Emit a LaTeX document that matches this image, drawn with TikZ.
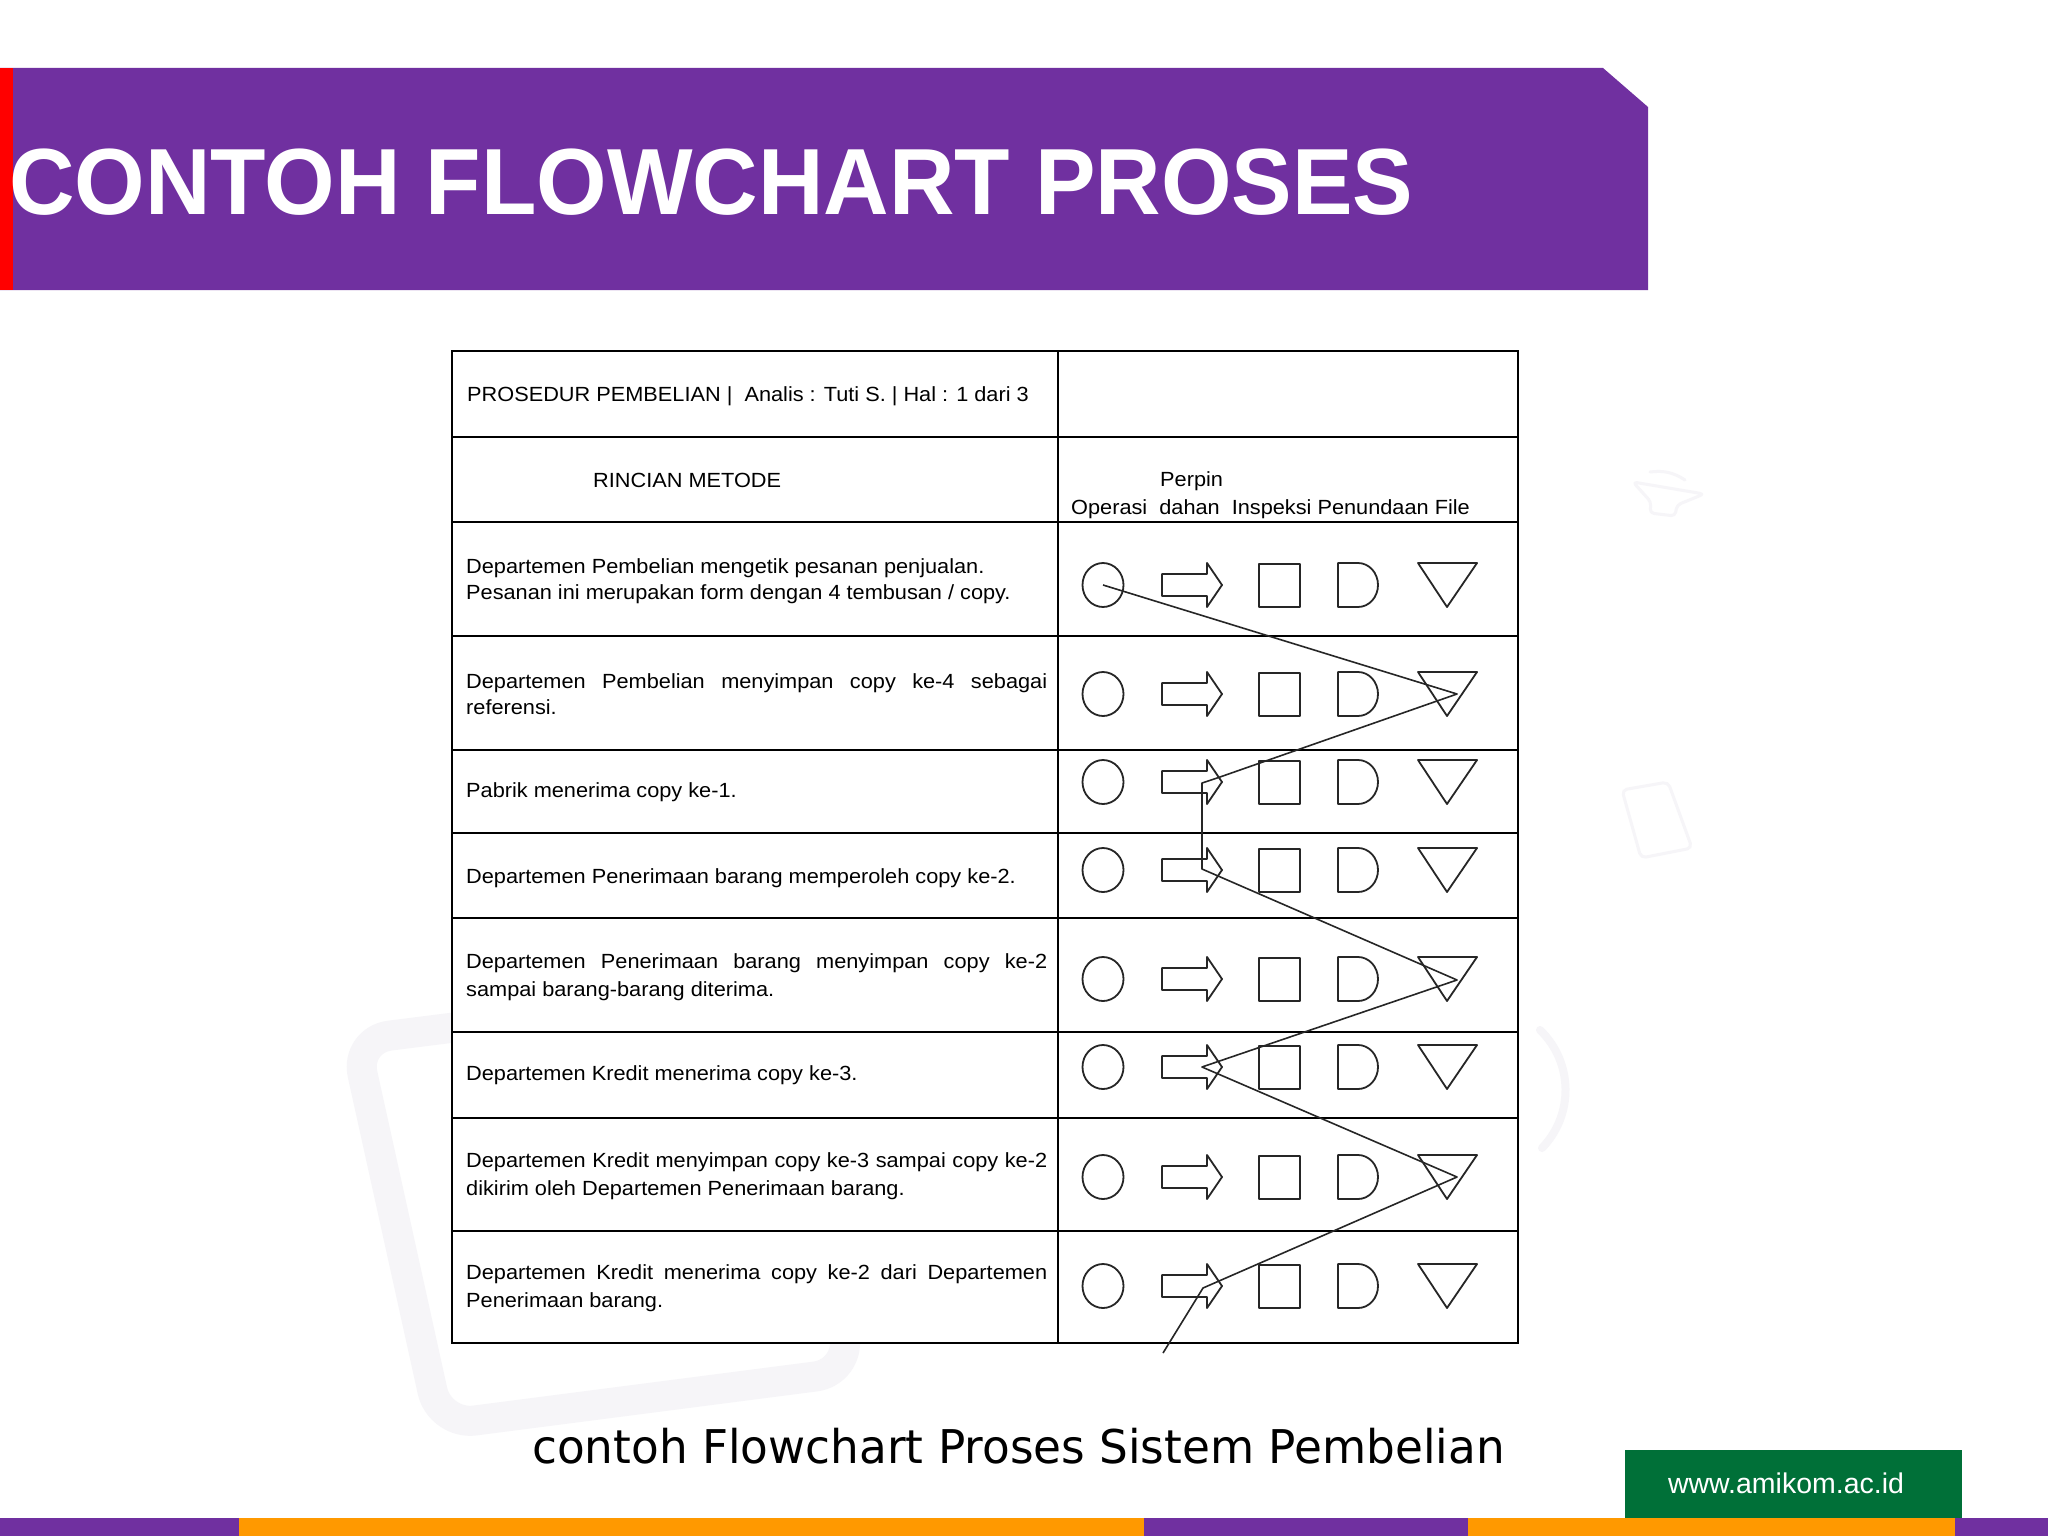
\documentclass[tikz,border=0pt]{standalone}
\usepackage{fontspec}
\setmainfont{Liberation Sans}
\newfontfamily\titlefont[FakeStretch=0.965]{Liberation Sans}
\newfontfamily\tabfont[FakeStretch=1.06]{Liberation Sans}
\newfontfamily\capfont[FakeStretch=0.975]{DejaVu Sans}
\definecolor{hdrpurple}{RGB}{112,48,160}
\definecolor{hdrred}{RGB}{255,0,0}
\definecolor{barorange}{RGB}{255,153,0}
\definecolor{webgreen}{RGB}{0,112,56}
\definecolor{wmgray}{RGB}{246,245,248}
\tikzset{
  tabline/.style={line width=2.5pt, black},
  sym/.style={line width=1.8pt, black!85, line join=round},
  flow/.style={line width=1.6pt, black!85, line join=round},
  ttext/.style={anchor=base west, inner sep=0pt, font=\tabfont\fontsize{20.5}{25}\selectfont},
  wm/.style={draw=wmgray, line cap=round, line join=round},
}
\begin{document}
\begin{tikzpicture}[x=1pt,y=-1pt]
\useasboundingbox (0,0) rectangle (2048,1536);
\fill[white] (0,0) rectangle (2048,1536);

% faint watermark shapes
\draw[wm, line width=30pt, rounded corners=35pt] (355,1040) -- (790,985) -- (850,1372) -- (440,1425) -- cycle;
\draw[wm, line width=8pt] (1540,1030) to[bend left=45] (1542,1148);
\draw[wm, line width=3pt, rounded corners=4pt] (1633,482) -- (1704,494) -- (1677,505) -- (1675,516) -- (1650,513) -- (1651,502) -- cycle;
\draw[wm, line width=3pt] (1650,472) to[bend left=20] (1685,480);
\draw[wm, line width=3pt, rounded corners=5pt] (1622,790) -- (1668,782) -- (1692,848) -- (1641,858) -- cycle;

% header band
\fill[hdrpurple] (0,68) -- (1603,68) -- (1648,107) -- (1648,290) -- (0,290) -- cycle;
\fill[hdrred] (0,68) rectangle (13,290);
\node[anchor=base west, inner sep=0pt, text=white, font=\titlefont\bfseries\fontsize{94}{100}\selectfont] (title) at (9,214) {CONTOH FLOWCHART PROSES};

% table
\fill[white] (452,351) rectangle (1518,1343);
\draw[tabline] (452,351) rectangle (1518,1343);
\draw[tabline] (1058,351) -- (1058,1343);
\foreach \yy in {437,522,636,750,833,918,1032,1118,1231} {
  \draw[tabline] (452,\yy) -- (1518,\yy);
}

% header texts
\node[ttext] (hdr) at (467,401) {PROSEDUR PEMBELIAN~|~~Analis : Tuti S. | Hal : 1 dari 3};
\node[ttext] (rincian) at (593,487) {RINCIAN METODE};
\node[ttext] (perpin) at (1160,486) {Perpin};
\node[ttext] (cols) at (1071,514) {Operasi~~dahan~~Inspeksi Penundaan File};

% row texts
\node[ttext] (r1a) at (466,573) {Departemen Pembelian mengetik pesanan penjualan.};
\node[ttext] (r1b) at (466,599) {Pesanan ini merupakan form dengan 4 tembusan / copy.};
\node[ttext] (r2a) at (466,688) {\makebox[581pt][s]{Departemen Pembelian menyimpan copy ke-4 sebagai}};
\node[ttext] (r2b) at (466,714) {referensi.};
\node[ttext] (r3) at (466,797) {Pabrik menerima copy ke-1.};
\node[ttext] (r4) at (466,883) {Departemen Penerimaan barang memperoleh copy ke-2.};
\node[ttext] (r5a) at (466,968) {\makebox[581pt][s]{Departemen Penerimaan barang menyimpan copy ke-2}};
\node[ttext] (r5b) at (466,996) {sampai barang-barang diterima.};
\node[ttext] (r6) at (466,1080) {Departemen Kredit menerima copy ke-3.};
\node[ttext] (r7a) at (466,1167) {\makebox[581pt][s]{Departemen Kredit menyimpan copy ke-3 sampai copy ke-2}};
\node[ttext] (r7b) at (466,1195) {dikirim oleh Departemen Penerimaan barang.};
\node[ttext] (r8a) at (466,1279) {\makebox[581pt][s]{Departemen Kredit menerima copy ke-2 dari Departemen}};
\node[ttext] (r8b) at (466,1307) {Penerimaan barang.};

% symbols
\foreach \cy in {585,694,782,870,979,1067,1177,1286} {
  \draw[sym] (1103,\cy) ellipse [x radius=20.5pt, y radius=22pt];
  \draw[sym] (1162,\cy-11) -- (1207,\cy-11) -- (1207,\cy-22) -- (1222,\cy) -- (1207,\cy+22) -- (1207,\cy+11) -- (1162,\cy+11) -- cycle;
  \draw[sym] (1259,\cy-21) rectangle (1300,\cy+22);
  \draw[sym] (1338,\cy-22) -- (1358,\cy-22) arc[start angle=90, end angle=-90, x radius=20pt, y radius=22pt] -- (1338,\cy+22) -- cycle;
  \draw[sym] (1418,\cy-22) -- (1477,\cy-22) -- (1447,\cy+22) -- cycle;
}

% flow line
\coordinate (p1) at (1103,585);
\coordinate (p2) at (1457,694);
\coordinate (p3) at (1220,777);
\coordinate (p3b) at (1202,783);
\coordinate (p4) at (1202,869);
\coordinate (p5) at (1457,980);
\coordinate (p6) at (1202,1067);
\coordinate (p7) at (1457,1177);
\coordinate (p8) at (1219,1281);
\coordinate (p8b) at (1203,1288);
\coordinate (p9) at (1163,1353);
\draw[flow] (p1) -- (p2) -- (p3) -- (p3b) -- (p4) -- (p5) -- (p6) -- (p7) -- (p8) -- (p8b) -- (p9);

% caption
\node[anchor=base west, inner sep=0pt, font=\capfont\fontsize{46.5}{50}\selectfont] (caption) at (532,1463) {contoh Flowchart Proses Sistem Pembelian};

% footer
\fill[webgreen] (1625,1450) rectangle (1962,1518);
\node[anchor=base, inner sep=0pt, text=white, font=\fontsize{28.5}{30}\selectfont] (web) at (1786,1493) {www.amikom.ac.id};
\fill[hdrpurple] (0,1518) rectangle (239,1536);
\fill[barorange] (239,1518) rectangle (1144,1536);
\fill[hdrpurple] (1144,1518) rectangle (1468,1536);
\fill[barorange] (1468,1518) rectangle (1955,1536);
\fill[hdrpurple] (1955,1518) rectangle (2048,1536);
\end{tikzpicture}
\end{document}
